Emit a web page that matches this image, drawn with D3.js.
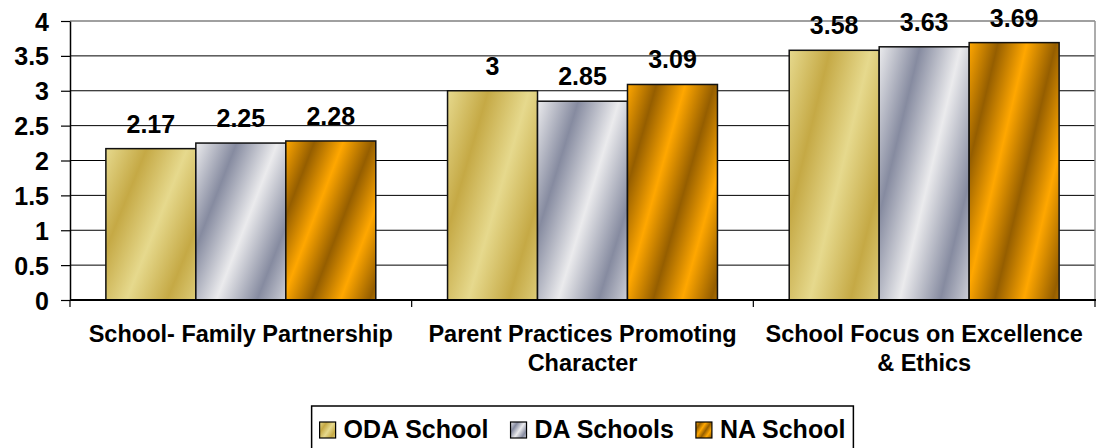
<!DOCTYPE html>
<html>
<head>
<meta charset="utf-8">
<script src="https://d3js.org/d3.v7.min.js"></script>
<style>
  body { margin: 0; background: #fff; }
  svg text { font-family: Arial, "Liberation Sans", sans-serif; font-weight: bold; fill: #000; }
</style>
</head>
<body>
<script>
// chart values
var categories = ["School- Family Partnership", "Parent Practices Promoting\nCharacter", "School Focus on Excellence\n& Ethics"];
var seriesNames = ["ODA School", "DA Schools", "NA School"];
var odaValues = [2.17, 3, 3.58];
var daValues = [2.25, 2.85, 3.63];
var naValues = [2.28, 3.09, 3.69];
var yTicks = [0, 0.5, 1, 1.5, 2, 2.5, 3, 3.5, 4];

// light / dark pairs for the metallic stripes
var fills = [
    { light: "#e6d98d", dark: "#c5a945", half: 0.31 },
    { light: "#ebebed", dark: "#868ba0", half: 0.31 },
    { light: "#ffa700", dark: "#955e00", half: 0.22 }
];

var width = 1096, height = 448;
var plotLeft = 70, plotRight = 1095, plotTop = 21, plotBottom = 300;

var svg = d3.select("body").append("svg")
    .attr("width", width)
    .attr("height", height);

var defs = svg.append("defs");
fills.forEach(function (f, i) {
    var g = defs.append("linearGradient")
        .attr("id", "grad" + i)
        .attr("x1", 0).attr("y1", 0)
        .attr("x2", f.half).attr("y2", f.half * 0.68)
        .attr("spreadMethod", "reflect");
    g.append("stop").attr("offset", 0).attr("stop-color", f.light);
    g.append("stop").attr("offset", 1).attr("stop-color", f.dark);
});

var table = categories.map(function (c, i) {
    return { cat: c, values: [odaValues[i], daValues[i], naValues[i]] };
});

//scales
var y = d3.scaleLinear().domain([0, 4]).range([plotBottom, plotTop]);
var x0 = d3.scaleBand()
    .domain(categories)
    .range([plotLeft, plotRight])
    .paddingInner(0.21)
    .paddingOuter(0.105);
var x1 = d3.scaleBand()
    .domain(seriesNames)
    .range([0, x0.bandwidth()]);

// grid lines
svg.append("g").selectAll("line")
    .data(yTicks.filter(function (d) { return d > 0; }))
    .enter().append("line")
    .attr("x1", plotLeft).attr("x2", plotRight)
    .attr("y1", function (d) { return y(d); })
    .attr("y2", function (d) { return y(d); })
    .attr("stroke", function (d) { return d === 4 ? "#808080" : "#000"; })
    .attr("stroke-width", function (d) { return d === 4 ? 1.5 : 1; });
svg.append("line")
    .attr("x1", plotRight).attr("x2", plotRight)
    .attr("y1", plotTop).attr("y2", plotBottom)
    .attr("stroke", "#909090").attr("stroke-width", 1.5);

// y axis
var yAxis = svg.append("g")
    .attr("transform", "translate(" + plotLeft + ",0)")
    .call(d3.axisLeft(y).tickValues(yTicks).tickSize(9).tickSizeOuter(0).tickPadding(12)
        .tickFormat(d3.format("")));
yAxis.attr("font-family", null).attr("font-size", null);
yAxis.select(".domain").attr("stroke", "#000").attr("stroke-width", 1.5);
yAxis.selectAll(".tick line").attr("stroke", "#000").attr("stroke-width", 1.2);
yAxis.selectAll("text").attr("font-size", 25).attr("dy", "0.36em");

// bars
var groups = svg.append("g").selectAll("g")
    .data(table)
    .enter().append("g")
    .attr("transform", function (d) { return "translate(" + x0(d.cat) + ",0)"; });

groups.selectAll("rect")
    .data(function (d) { return d.values; })
    .enter().append("rect")
    .attr("x", function (d, i) { return x1(seriesNames[i]); })
    .attr("y", function (d) { return y(d); })
    .attr("width", x1.bandwidth())
    .attr("height", function (d) { return plotBottom - y(d); })
    .attr("fill", function (d, i) { return "url(#grad" + i + ")"; })
    .attr("stroke", "#111")
    .attr("stroke-width", 1.5);

groups.selectAll("text")
    .data(function (d) { return d.values; })
    .enter().append("text")
    .attr("x", function (d, i) { return x1(seriesNames[i]) + x1.bandwidth() / 2; })
    .attr("y", function (d) { return y(d) - 16; })
    .attr("text-anchor", "middle")
    .attr("font-size", 25)
    .text(function (d) { return String(d); });

// x axis line and category ticks
svg.append("line")
    .attr("x1", plotLeft).attr("x2", plotRight + 1)
    .attr("y1", plotBottom).attr("y2", plotBottom)
    .attr("stroke", "#000").attr("stroke-width", 2);
var bounds = d3.range(categories.length + 1).map(function (i) {
    return x0.range()[0] + i * x0.step();
});
svg.append("g").selectAll("line")
    .data(bounds)
    .enter().append("line")
    .attr("x1", function (d) { return d; }).attr("x2", function (d) { return d; })
    .attr("y1", plotBottom).attr("y2", plotBottom + 7)
    .attr("stroke", "#000").attr("stroke-width", 1.2);

// category labels
var catLabels = svg.append("g").selectAll("text")
    .data(categories)
    .enter().append("text")
    .attr("x", function (d) { return x0(d) + x0.bandwidth() / 2; })
    .attr("y", 342)
    .attr("text-anchor", "middle")
    .attr("font-size", 23.5);
catLabels.each(function (d) {
    var t = d3.select(this);
    d.split("\n").forEach(function (line, i) {
        t.append("tspan")
            .attr("x", t.attr("x"))
            .attr("dy", i === 0 ? 0 : 29)
            .text(line);
    });
});

// legend
var legend = svg.append("g");
var legendBox = legend.append("rect")
    .attr("y", 406)
    .attr("height", 60)
    .attr("fill", "#fff")
    .attr("stroke", "#000")
    .attr("stroke-width", 1.5);
var lx = 0;
var items = legend.append("g");
seriesNames.forEach(function (name, i) {
    var item = items.append("g").attr("transform", "translate(" + lx + ",0)");
    item.append("rect")
        .attr("x", 0).attr("y", 422)
        .attr("width", 16).attr("height", 16)
        .attr("fill", "url(#grad" + i + ")")
        .attr("stroke", "#000").attr("stroke-width", 1.2);
    var t = item.append("text")
        .attr("x", 24).attr("y", 438)
        .attr("font-size", 25)
        .text(name);
    lx += 24 + t.node().getComputedTextLength() + 22;
});
var legendWidth = lx - 22;
var legendX = (plotLeft + plotRight) / 2 - legendWidth / 2;
items.attr("transform", "translate(" + legendX + ",0)");
legendBox.attr("x", legendX - 8).attr("width", legendWidth + 16);
</script>
</body>
</html>
